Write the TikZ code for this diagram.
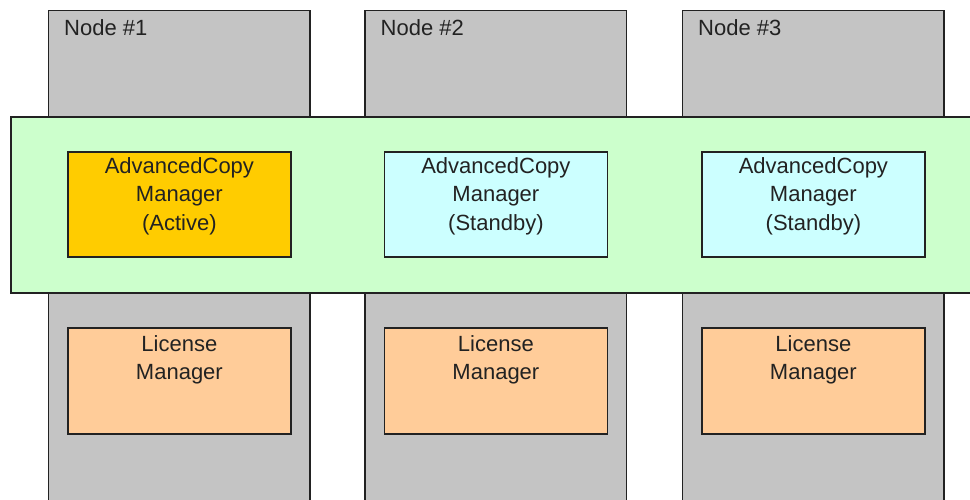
\documentclass[tikz,border=0pt]{standalone}
\usepackage{fontspec}
\setmainfont{Liberation Sans}
\definecolor{colgray}{RGB}{196,196,196}
\definecolor{band}{RGB}{204,255,204}
\definecolor{active}{RGB}{255,204,0}
\definecolor{standby}{RGB}{204,255,255}
\definecolor{lic}{RGB}{255,204,153}
\definecolor{edge}{RGB}{34,34,34}
\begin{document}
\begin{tikzpicture}[x=1pt,y=-1pt,
  column/.style={draw=edge, line width=1.8pt, fill=colgray, minimum width=261.5pt, minimum height=520pt, inner sep=0pt, anchor=north west},
  bandbox/.style={draw=edge, line width=1.8pt, fill=band, minimum width=990pt, minimum height=176pt, inner sep=0pt, anchor=north west},
  box/.style={draw=edge, line width=1.8pt, minimum width=223pt, minimum height=105pt, inner sep=0pt, anchor=north west},
  licbox/.style={box, fill=lic, minimum height=106.5pt},
  txt/.style={font=\fontsize{22}{28.5}\selectfont, align=center, inner sep=0pt, anchor=north, text=edge},
  lbl/.style={font=\fontsize{22}{28.5}\selectfont, inner sep=0pt, anchor=base west, text=edge}]
\useasboundingbox (0,0) rectangle (970,499);
\clip (0,0) rectangle (970,499);
\fill[white] (0,0) rectangle (970,499);
% columns
\node[column] (c1) at (47.5,9.5) {};
\node[column] (c2) at (364,9.5) {};
\node[column] (c3) at (681.5,9.5) {};
\node[lbl] (n1) at ([xshift=16.5pt,yshift=-26.2pt]c1.north west) {Node \#1};
\node[lbl] (n2) at ([xshift=16.5pt,yshift=-26.2pt]c2.north west) {Node \#2};
\node[lbl] (n3) at ([xshift=16.5pt,yshift=-26.2pt]c3.north west) {Node \#3};
% band
\node[bandbox] (band) at (10,115.7) {};
% AdvancedCopy boxes
\node[box, fill=active] (a1) at (67,151) {};
\node[box, fill=standby] (a2) at (383.5,151) {};
\node[box, fill=standby] (a3) at (701,151) {};
\node[txt] (ta1) at ([yshift=-6.3pt]a1.north) {AdvancedCopy\\Manager\\(Active)};
\node[txt] (ta2) at ([yshift=-6.3pt]a2.north) {AdvancedCopy\\Manager\\(Standby)};
\node[txt] (ta3) at ([yshift=-6.3pt]a3.north) {AdvancedCopy\\Manager\\(Standby)};
% License boxes
\node[licbox] (l1) at (67,326.7) {};
\node[licbox] (l2) at (383.5,326.7) {};
\node[licbox] (l3) at (701,326.7) {};
\node[txt] (tl1) at ([yshift=-8.6pt]l1.north) {License\\Manager};
\node[txt] (tl2) at ([yshift=-8.6pt]l2.north) {License\\Manager};
\node[txt] (tl3) at ([yshift=-8.6pt]l3.north) {License\\Manager};
\end{tikzpicture}
\end{document}
